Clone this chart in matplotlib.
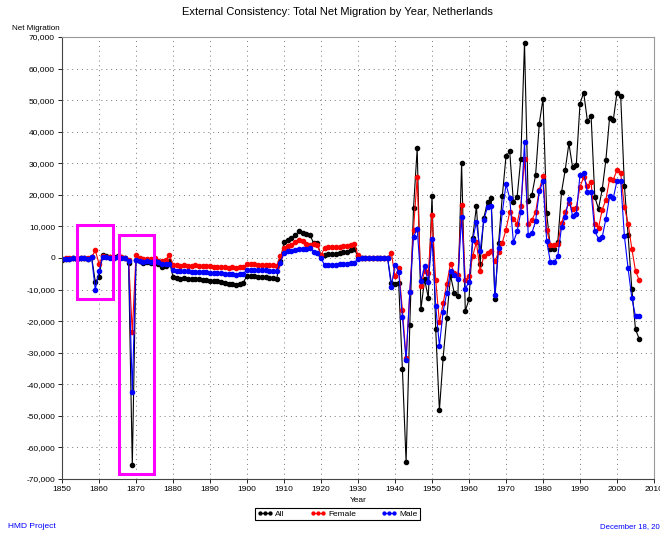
import numpy as np
import matplotlib
matplotlib.use("Agg")
import matplotlib.pyplot as plt
from matplotlib.patches import Rectangle
from matplotlib.ticker import FuncFormatter, MultipleLocator

plt.rcParams['font.family'] = ['Liberation Sans', 'DejaVu Sans']

# net migration by year
years = np.arange(1850, 2007)

all_net = [
    -500, -200, -300, 0, -200, -100, 100, -300, 400, -7600,
    -6000, 900, 600, 300, 200, 500, 300, 0, -1500, -65700,
    -500, -1000, -1500, -1200, -1500, -800, -2000, -3000, -2500, -800,
    -6000, -6400, -6500, -6400, -6600, -6700, -6600, -6800, -6900, -7000,
    -7200, -7400, -7300, -7600, -8000, -8200, -8100, -8500, -8200, -7800,
    -5600, -5700, -5800, -5900, -6000, -6100, -6200, -6300, -6600, -1000,
    5000, 5800, 6300, 7200, 8400, 8000, 7500, 7400, 4700, 4700,
    700, 1000, 1200, 1200, 1400, 1600, 1800, 2000, 2400, 2800,
    500, 0, 0, 0, 0, 0, 0, 0, 0, -7800,
    -8100, -8000, -35200, -64600, -21200, 15800, 34700, -16300, -6800, -12600,
    19600, -22500, -48300, -31700, -18900, -5500, -11000, -12000, 30000, -16800,
    -13100, 6400, 16400, -1800, 12700, 17700, 19000, -13100, 4900, 19600,
    32200, 33800, 17700, 19300, 31400, 68100, 18000, 20000, 26300, 42600,
    50500, 14200, 3000, 3000, 5000, 20800, 27900, 36300, 28700, 29500,
    48900, 52400, 43400, 45000, 19300, 15600, 21700, 31100, 44500, 43700,
    52400, 51300, 22900, 7200, -9700, -22600, -25600,
]

female = [
    -300, 0, -100, 100, 0, 0, 100, -100, 200, 2400,
    -1800, 500, 300, 200, 100, 300, 200, 100, -500, -23500,
    1000, 0, -300, -200, -300, 0, -800, -1000, -700, 1000,
    -2100, -2300, -2400, -2300, -2400, -2400, -2300, -2500, -2500, -2500,
    -2600, -2700, -2700, -2800, -3000, -3100, -3000, -3200, -3000, -2800,
    -1900, -2000, -2000, -2100, -2100, -2200, -2300, -2300, -2400, 500,
    3200, 3800, 4000, 5000, 5800, 5400, 4500, 4200, 4400, 4200,
    800, 3300, 3400, 3400, 3500, 3600, 3700, 3800, 4000, 4300,
    1000, 0, 0, 0, 0, 0, 0, 0, 0, 1700,
    -5800, -3100, -16500, -31800, -10700, 9000, 25600, -8900, -4100, -4900,
    13700, -7000, -20400, -14400, -8100, -1800, -4600, -5500, 16900, -7000,
    -5800, 600, 5000, -4100, 600, 1600, 2200, -1000, 1900, 4900,
    9000, 14500, 12400, 10900, 16600, 31400, 10900, 12100, 14500, 21600,
    25900, 9000, 4200, 4200, 4500, 11000, 14700, 17400, 15400, 15900,
    22600, 25600, 22900, 24000, 10900, 9500, 15300, 18500, 25000, 24800,
    27900, 26800, 16100, 10900, 3000, -4100, -7000,
]

male = [
    -200, -200, -200, -100, -200, -100, 0, -200, 200, -10000,
    -4200, 400, 300, 100, 100, 200, 100, -100, -1000, -42300,
    -700, -1000, -1200, -1000, -1200, -800, -1300, -2000, -1800, -1800,
    -3900, -4100, -4100, -4100, -4200, -4300, -4300, -4300, -4400, -4500,
    -4600, -4700, -4600, -4800, -5000, -5100, -5100, -5300, -5200, -5000,
    -3700, -3700, -3800, -3800, -3900, -3900, -4000, -4000, -4200, -1500,
    1700, 2100, 2300, 2600, 2700, 2900, 3000, 3200, 1900, 1500,
    -100, -2300, -2200, -2200, -2100, -2000, -1900, -1800, -1600, -1500,
    -200, 0, 0, 0, 0, 0, 0, 0, 0, -9100,
    -2100, -4400, -18600, -32300, -10700, 6600, 9300, -7300, -2600, -7600,
    6100, -15200, -27900, -17000, -11000, -4100, -5500, -6500, 13100, -9700,
    -7600, 5800, 11400, 2200, 12100, 16100, 16600, -11800, 3300, 14500,
    23300, 19000, 5000, 8400, 14500, 36600, 7400, 7900, 11700, 21100,
    24300, 5400, -1300, -1300, 600, 9800, 13100, 18700, 13300, 13800,
    26400, 26900, 20800, 20800, 8400, 6100, 6600, 12400, 19500, 19000,
    24500, 24500, 6900, -3300, -12600, -18400, -18400,
]

# magenta highlight boxes (year_from, year_to, value_low, value_high)
boxes = [(1854.1, 1863.7, -12900, 10500), (1865.3, 1874.9, -68300, 7400)]

fig = plt.figure(figsize=(6.6, 5.35), dpi=100)
ax = fig.add_axes([62 / 660, 1 - 479 / 535, 592 / 660, 442 / 535])

ax.plot(years, all_net, color='black', lw=0.8, marker='o', ms=3, label='All')
ax.plot(years, female, color='red', lw=0.8, marker='o', ms=3, label='Female')
ax.plot(years, male, color='blue', lw=0.8, marker='o', ms=3, label='Male')

for x0, x1, y0, y1 in boxes:
    ax.add_patch(Rectangle((x0, y0), x1 - x0, y1 - y0, fill=False,
                           edgecolor='#ff00ff', lw=2.2, zorder=5))

ax.set_xlim(1850, 2010)
ax.set_ylim(-70000, 70000)
ax.xaxis.set_major_locator(MultipleLocator(10))
ax.yaxis.set_major_locator(MultipleLocator(10000))
ax.yaxis.set_major_formatter(FuncFormatter(lambda v, p: f'{int(v):,}'))
ax.tick_params(labelsize=6, length=3, width=0.6, direction='out', pad=2)
ax.grid(True, linestyle=(0, (1, 4)), color='#777777', lw=0.7)

for side in ['top', 'right']:
    ax.spines[side].set_color('#999999')
for side in ['left', 'bottom']:
    ax.spines[side].set_color('#444444')

fig.text(337 / 660, 1 - 12 / 535, 'External Consistency: Total Net Migration by Year, Netherlands',
         ha='center', va='center', fontsize=8)
fig.text(12 / 660, 1 - 28 / 535, 'Net Migration', ha='left', va='center', fontsize=5.8)
fig.text(358 / 660, 1 - 500 / 535, 'Year', ha='center', va='center', fontsize=6)

leg = fig.legend(loc='center', bbox_to_anchor=(337.5 / 660, 1 - 514 / 535), ncol=3,
                 fontsize=6, fancybox=False, edgecolor='black', framealpha=1,
                 handlelength=1.8, columnspacing=3.0, handletextpad=0.4,
                 borderpad=0.3, numpoints=3, markerscale=0.7)
leg.get_frame().set_linewidth(0.8)

fig.text(8 / 660, 1 - 527 / 535, 'HMD Project', color='blue', ha='left', va='center', fontsize=6)
fig.text(600 / 660, 1 - 527 / 535, 'December 18, 2007', color='blue', ha='left', va='center', fontsize=5.6)

fig.savefig('out.png', dpi=100)
